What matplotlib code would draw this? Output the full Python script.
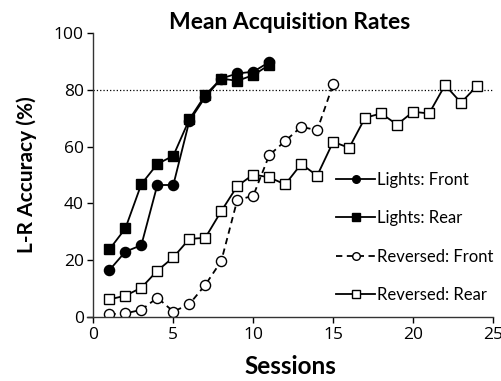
import matplotlib
matplotlib.use("Agg")
import matplotlib.pyplot as plt

# session numbers
sessions_lights = list(range(1, 12))
sessions_rev_front = list(range(1, 16))
sessions_rev_rear = list(range(1, 25))

lights_front = [16.5, 23, 25.3, 46.5, 46.5, 69, 77.5, 84, 85.8, 86.4, 89.8]
lights_rear = [23.8, 31.2, 46.8, 53.9, 56.8, 69.6, 78.2, 84, 83.2, 85.2, 88.8]
rev_front = [1, 1.3, 2.5, 6.8, 1.9, 4.5, 11.3, 19.7, 41.2, 42.7, 57, 62, 67, 65.8, 82]
rev_rear = [6.2, 7.5, 10.3, 16.3, 21, 27.5, 27.9, 37.3, 46.1, 50.2, 49.2, 46.7,
            53.9, 49.8, 61.7, 59.6, 70.2, 71.7, 67.8, 72.3, 71.7, 81.7, 75.5, 81.4]

criterion = 80
xticks = [0, 5, 10, 15, 20, 25]
yticks = [0, 20, 40, 60, 80, 100]

plt.rcParams["font.family"] = ["Open Sans", "DejaVu Sans"]
bold_font = ["Lato", "DejaVu Sans"]

fig = plt.figure(figsize=(5.02, 3.81), dpi=100)
ax = fig.add_axes([0.1733, 0.168, 0.8088, 0.745])

ax.plot([xticks[0], xticks[-1]], [criterion, criterion], color="black", linestyle=":", linewidth=0.9)

lw = 1.3
ms = 7.3
ax.plot(sessions_lights, lights_front, color="black", linewidth=lw, marker="o",
        markersize=ms, markerfacecolor="black", markeredgecolor="black", label="Lights: Front")
ax.plot(sessions_lights, lights_rear, color="black", linewidth=lw, marker="s",
        markersize=ms, markerfacecolor="black", markeredgecolor="black", label="Lights: Rear")
ax.plot(sessions_rev_front, rev_front, color="black", linewidth=lw, linestyle=(0, (3.5, 2.5)),
        marker="o", markersize=ms, markerfacecolor="white", markeredgecolor="black",
        markeredgewidth=1.0, label="Reversed: Front")
ax.plot(sessions_rev_rear, rev_rear, color="black", linewidth=lw, marker="s",
        markersize=ms, markerfacecolor="white", markeredgecolor="black",
        markeredgewidth=1.0, label="Reversed: Rear")

ax.set_xlim(-0.4, 25)
ax.set_ylim(0, 100)
ax.spines["left"].set_bounds(0, 100)
ax.spines["left"].set_position(("data", 0))
ax.spines["top"].set_visible(False)
ax.spines["right"].set_visible(False)
ax.set_xticks(xticks)
ax.set_yticks(yticks)
ax.tick_params(direction="out", length=4, width=1, labelsize=12.5, pad=3)
for s in ["left", "bottom"]:
    ax.spines[s].set_linewidth(1)
    ax.spines[s].set_color("#333333")

ax.set_xlabel("Sessions", fontsize=17.5, fontweight="bold", family=bold_font, labelpad=9)
ax.set_ylabel("L-R Accuracy (%)", fontsize=15, fontweight="bold", family=bold_font, labelpad=12)
ax.set_title("Mean Acquisition Rates", fontsize=16.5, fontweight="bold", family=bold_font, pad=1)

ax.legend(loc="upper left", bbox_to_anchor=(0.598, 0.535), frameon=False,
          prop={"family": ["Lato", "DejaVu Sans"], "size": 12},
          handlelength=2.3, handletextpad=0.12, labelspacing=1.35, markerscale=0.75,
          borderaxespad=0)

fig.savefig("out.png", dpi=100)
